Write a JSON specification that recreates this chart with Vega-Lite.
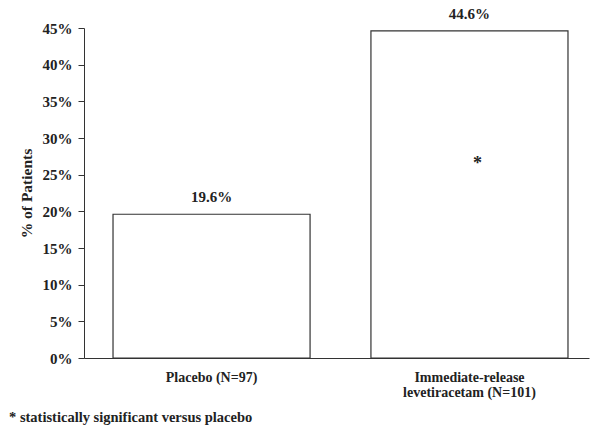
{
  "$schema": "https://vega.github.io/schema/vega-lite/v6.json",
  "autosize": "none",
  "width": 505,
  "height": 330,
  "padding": {"left": 84, "top": 28, "right": 1, "bottom": 67},
  "background": "white",
  "config": {
    "view": {"stroke": null},
    "font": "Liberation Serif",
    "text": {"font": "Liberation Serif"},
    "title": {"font": "Liberation Serif"},
    "axis": {"labelFont": "Liberation Serif", "titleFont": "Liberation Serif", "labelFontWeight": "bold", "titleFontWeight": "bold", "labelColor": "#222", "titleColor": "#222", "domainColor": "#333", "tickColor": "#333", "grid": false}
  },
  "data": {"values": [
    {"group": "Placebo (N=97)", "pct": 0.196, "label": "19.6%", "note": ""},
    {"group": "Immediate-release levetiracetam (N=101)", "pct": 0.446, "label": "44.6%", "note": "*"}
  ]},
  "title": {"text": "* statistically significant versus placebo", "orient": "bottom", "anchor": "start", "frame": "group", "dx": -75, "offset": 12, "font": "Liberation Serif", "fontSize": 14.5, "fontWeight": "bold", "color": "#222"},
  "encoding": {
    "x": {"field": "group", "type": "nominal", "sort": null,
      "scale": {"paddingInner": 0.236, "paddingOuter": 0.097, "align": 0.58},
      "axis": {"title": null, "labelAngle": 0, "ticks": false, "labelPadding": 12, "labelFontSize": 14, "labelLineHeight": 15,
        "labelExpr": "datum.value == 'Immediate-release levetiracetam (N=101)' ? ['Immediate-release', 'levetiracetam (N=101)'] : datum.value"}},
    "y": {"field": "pct", "type": "quantitative", "scale": {"domain": [0, 0.45]},
       "axis": {"title": "% of Patients", "format": ".0%", "values": [0,0.05,0.1,0.15,0.2,0.25,0.3,0.35,0.4,0.45], "labelOverlap": false, "tickSize": 6, "labelPadding": 6, "labelFontSize": 15, "titleFontSize": 15.5, "titlePadding": 8}}
  },
  "layer": [
    {"mark": {"type": "bar", "fill": "white", "stroke": "#333", "strokeWidth": 1.2}},
    {"mark": {"type": "text", "baseline": "bottom", "dy": -9, "fontSize": 15, "fontWeight": "bold", "color": "#222"},
     "encoding": {"text": {"field": "label"}}},
    {"mark": {"type": "text", "baseline": "middle", "dx": 8, "fontSize": 18, "fontWeight": "bold", "color": "#222"},
     "encoding": {"y": {"datum": 0.265}, "text": {"field": "note"}}}
  ]
}
